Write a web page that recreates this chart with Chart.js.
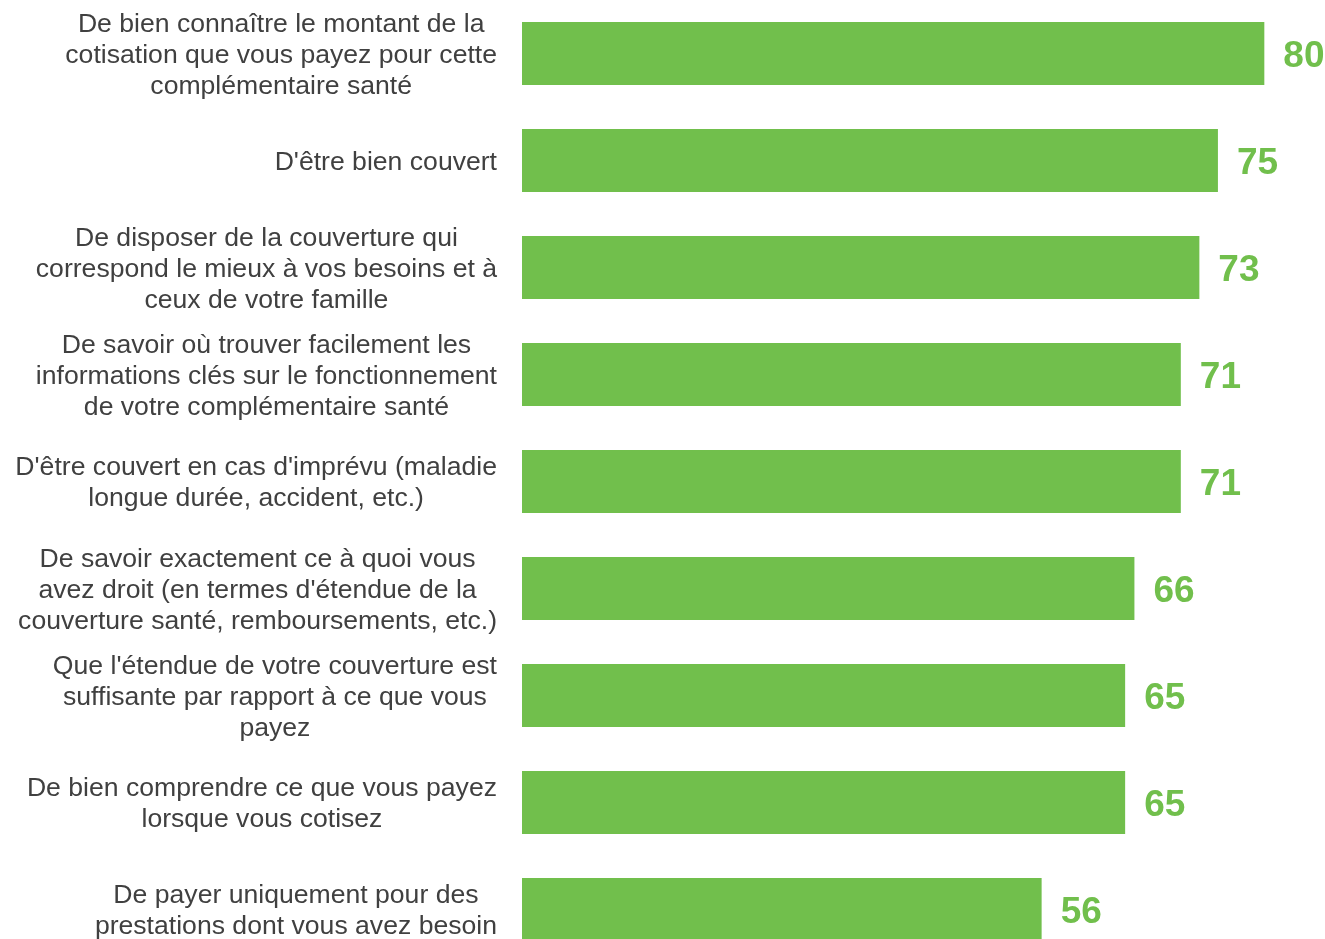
<!DOCTYPE html>
<html>
<head>
<meta charset="utf-8">
<script src="https://cdn.jsdelivr.net/npm/chart.js@4/dist/chart.umd.min.js"></script>
<style>
  html, body { margin: 0; padding: 0; background: #fff; overflow: hidden; }
  #wrap { position: relative; width: 1325px; height: 963px; }
</style>
</head>
<body>
<div id="wrap"><canvas id="importance"></canvas></div>
<script>
// one entry per bar, each label split the way it wraps
const items = [
    ['De bien connaître le montant de la', 'cotisation que vous payez pour cette', 'complémentaire santé'],
    ["D'être bien couvert"],
    ['De disposer de la couverture qui', 'correspond le mieux à vos besoins et à', 'ceux de votre famille'],
    ['De savoir où trouver facilement les', 'informations clés sur le fonctionnement', 'de votre complémentaire santé'],
    ["D'être couvert en cas d'imprévu (maladie", 'longue durée, accident, etc.)'],
    ['De savoir exactement ce à quoi vous', "avez droit (en termes d'étendue de la", 'couverture santé, remboursements, etc.)'],
    ["Que l'étendue de votre couverture est", 'suffisante par rapport à ce que vous', 'payez'],
    ['De bien comprendre ce que vous payez', 'lorsque vous cotisez'],
    ['De payer uniquement pour des', 'prestations dont vous avez besoin']
];
const scores = [80, 75, 73, 71, 71, 66, 65, 65, 56];

const GREEN = '#71bf4c';
const LABEL_FONT = '26.6px "Liberation Sans"';

// left-hand labels: each block right-aligned, its lines centred inside it
const blockLabels = {
    id: 'blockLabels',
    afterDraw(chart) {
        const ctx = chart.ctx;
        const y = chart.scales.y;
        const right = 497, lineH = 31;
        ctx.save();
        ctx.font = LABEL_FONT;
        ctx.fillStyle = '#404040';
        ctx.textAlign = 'center';
        ctx.textBaseline = 'middle';
        items.forEach((lines, i) => {
            const w = Math.max(...lines.map(l => ctx.measureText(l).width));
            const cx = right - w / 2;
            const cy = y.getPixelForValue(i) + 2;
            const top = cy - (lines.length - 1) * lineH / 2;
            lines.forEach((l, k) => ctx.fillText(l, cx, top + k * lineH));
        });
        ctx.restore();
    }
};

// value at the end of each bar
const barValues = {
    id: 'barValues',
    afterDatasetsDraw(chart) {
        const ctx = chart.ctx;
        const meta = chart.getDatasetMeta(0);
        ctx.save();
        ctx.font = 'bold 37px "Liberation Sans"';
        ctx.fillStyle = GREEN;
        ctx.textAlign = 'left';
        ctx.textBaseline = 'middle';
        meta.data.forEach((bar, i) => {
            ctx.fillText(String(scores[i]), bar.x + 19, bar.y + 3);
        });
        ctx.restore();
    }
};

new Chart(document.getElementById('importance'), {
    type: 'bar',
    data: {
        labels: items.map(l => l.join(' ')),
        datasets: [{
            data: scores,
            backgroundColor: GREEN,
            borderWidth: 0,
            barPercentage: 0.59,
            categoryPercentage: 1
        }]
    },
    options: {
        indexAxis: 'y',
        responsive: true,
        maintainAspectRatio: false,
        animation: false,
        layout: { padding: { left: 522, right: 5, top: 0, bottom: 0 } },
        plugins: {
            legend: { display: false },
            tooltip: { enabled: false }
        },
        scales: {
            x: { display: false, min: 0, max: 86 },
            y: { display: false }
        }
    },
    plugins: [blockLabels, barValues]
});
</script>
</body>
</html>
